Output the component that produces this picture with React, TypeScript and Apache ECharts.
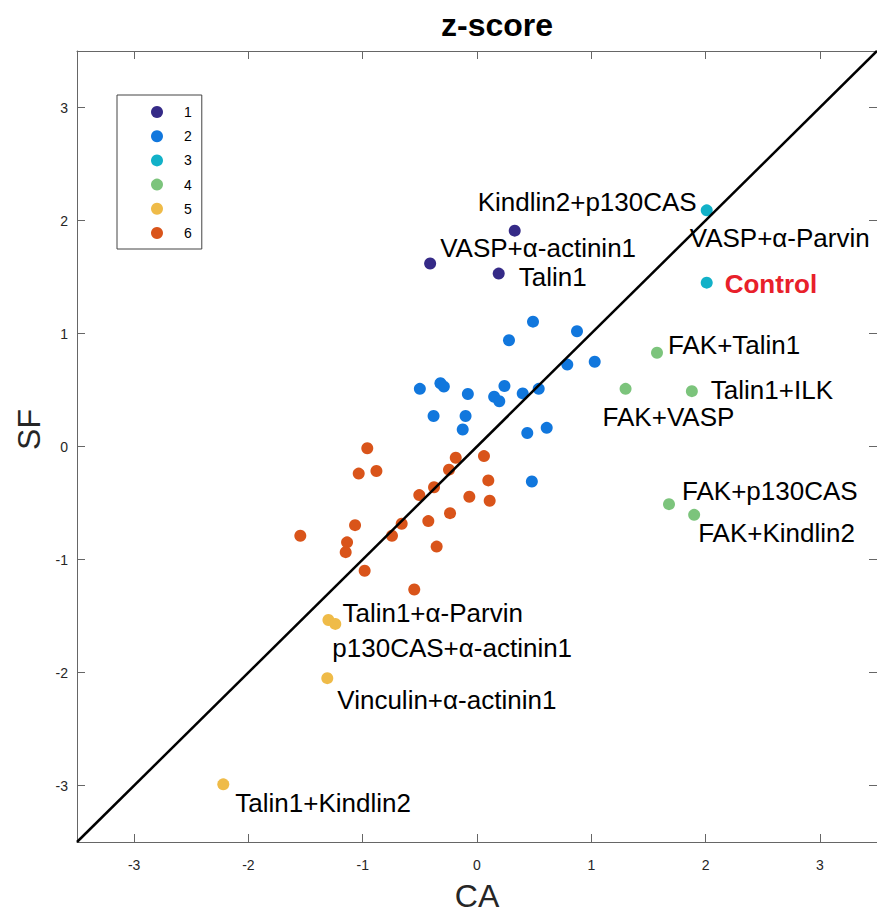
import React, { useEffect, useRef } from "react";
import * as echarts from "echarts";

// ---- data (CA = x, SF = y) ----
const GROUPS = ["1", "2", "3", "4", "5", "6"];

const CA1 = [0.33, -0.41, 0.19];
const SF1 = [1.91, 1.62, 1.53];
const NAME1 = ["Kindlin2+p130CAS", "VASP+α-actinin1", "Talin1"];

const CA2 = [0.49, 0.875, 0.28, 0.79, 1.03, -0.5, -0.32, -0.29, -0.08, 0.24, 0.15, 0.195, 0.4, 0.54, -0.38, -0.1, -0.125, 0.44, 0.61, 0.48];
const SF2 = [1.105, 1.02, 0.94, 0.725, 0.75, 0.51, 0.56, 0.53, 0.465, 0.535, 0.44, 0.4, 0.47, 0.51, 0.27, 0.27, 0.15, 0.12, 0.165, -0.31];

const CA3 = [2.01, 2.01];
const SF3 = [2.09, 1.45];
const NAME3 = ["VASP+α-Parvin", "Control"];

const CA4 = [1.575, 1.3, 1.88, 1.68, 1.9];
const SF4 = [0.83, 0.51, 0.49, -0.51, -0.605];
const NAME4 = ["FAK+Talin1", "FAK+VASP", "Talin1+ILK", "FAK+p130CAS", "FAK+Kindlin2"];

const CA5 = [-1.3, -1.24, -1.31, -2.22];
const SF5 = [-1.535, -1.57, -2.05, -2.99];
const NAME5 = ["Talin1+α-Parvin", "p130CAS+α-actinin1", "Vinculin+α-actinin1", "Talin1+Kindlin2"];

const CA6 = [-0.96, -1.035, -0.88, -0.186, 0.061, -0.245, -0.376, -0.505, 0.099, -0.067, 0.111, -0.236, -1.067, -0.659, -0.426, -1.546, -0.744, -1.137, -1.149, -0.353, -0.983, -0.549];
const SF6 = [-0.015, -0.24, -0.217, -0.1, -0.085, -0.205, -0.36, -0.43, -0.3, -0.445, -0.48, -0.59, -0.696, -0.684, -0.66, -0.79, -0.79, -0.848, -0.935, -0.886, -1.1, -1.266];

const DIAG = [-3.5, 3.5];

// ---- styles ----
const COLORS = ["#352a87", "#1177dd", "#12b1c8", "#7cc47c", "#efbb48", "#d9541a"];
const FONT = "'Liberation Sans', Arial, Helvetica, sans-serif";

const LABEL_LAYOUT: Record<string, { dx: number; dy: number; bold?: boolean; color?: string }> = {
  "Kindlin2+p130CAS": { dx: -37, dy: -29 },
  "VASP+α-actinin1": { dx: 10, dy: -15 },
  Talin1: { dx: 20, dy: 3 },
  "VASP+α-Parvin": { dx: -17, dy: 28 },
  Control: { dx: 18, dy: 1, bold: true, color: "#e8202a" },
  "FAK+Talin1": { dx: 11, dy: -8 },
  "FAK+VASP": { dx: -23, dy: 28 },
  "Talin1+ILK": { dx: 19, dy: -1 },
  "FAK+p130CAS": { dx: 13, dy: -13 },
  "FAK+Kindlin2": { dx: 4, dy: 18 },
  "Talin1+α-Parvin": { dx: 14, dy: -7 },
  "p130CAS+α-actinin1": { dx: -3, dy: 24 },
  "Vinculin+α-actinin1": { dx: 10, dy: 22 },
  "Talin1+Kindlin2": { dx: 12, dy: 19 },
};

function makeSeries(idx: number, xs: number[], ys: number[], names?: string[]) {
  return {
    type: "scatter",
    name: GROUPS[idx],
    xAxisIndex: 0,
    yAxisIndex: 0,
    symbol: "circle",
    symbolSize: 12,
    itemStyle: { color: COLORS[idx], opacity: 1 },
    z: 3,
    emphasis: { disabled: true },
    data: xs.map((x, i) => {
      const item: any = { value: [x, ys[i]] };
      const label = names ? names[i] : undefined;
      if (label) {
        const s = LABEL_LAYOUT[label];
        item.name = label;
        item.label = {
          show: true,
          position: "inside",
          align: "left",
          verticalAlign: "middle",
          offset: [s.dx, s.dy],
          formatter: "{b}",
          color: s.color || "#000",
          fontSize: 26,
          fontWeight: s.bold ? "bold" : "normal",
          fontFamily: FONT,
          textBorderWidth: 0,
        };
      }
      return item;
    }),
  };
}

const axisLineStyle = { color: "#666", width: 1 };

export default function App() {
  const ref = useRef<HTMLDivElement>(null);
  useEffect(() => {
    if (!ref.current) return;
    const chart = echarts.init(ref.current, undefined, { renderer: "svg" });
    const labelFmt = (v: number) => (Number.isInteger(v) ? String(v) : "");
    const baseAxis = {
      type: "value",
      min: -3.5,
      max: 3.5,
      splitNumber: 7,
      splitLine: { show: false },
      axisLine: { show: true, onZero: false, lineStyle: axisLineStyle },
      axisTick: { show: true, inside: true, length: 8, lineStyle: axisLineStyle },
    };
    chart.setOption({
      animation: false,
      backgroundColor: "#fff",
      title: {
        text: "z-score",
        left: 441,
        top: 9,
        padding: 0,
        textStyle: { fontSize: 32, fontWeight: "bold", color: "#000", fontFamily: FONT },
      },
      legend: {
        data: GROUPS,
        orient: "vertical",
        left: 117,
        top: 95,
        padding: [10, 10, 9, 34],
        itemGap: 10.2,
        itemWidth: 12,
        itemHeight: 12,
        icon: "circle",
        borderColor: "#444",
        borderWidth: 1,
        selectedMode: false,
        textStyle: { fontSize: 14, color: "#000", fontFamily: FONT, padding: [0, 0, 0, 16] },
      },
      grid: { left: 77, width: 801, top: 51, height: 798, containLabel: false },
      xAxis: [
        {
          ...baseAxis,
          position: "bottom",
          name: "CA",
          nameLocation: "middle",
          nameGap: 38,
          nameTextStyle: { fontSize: 32, color: "#262626", fontFamily: FONT },
          axisLabel: {
            formatter: labelFmt,
            margin: 16,
            fontSize: 14,
            color: "#262626",
            fontFamily: FONT,
            showMinLabel: false,
            showMaxLabel: false,
          },
        },
        {
          ...baseAxis,
          position: "top",
          axisLabel: { show: false },
        },
      ],
      yAxis: [
        {
          ...baseAxis,
          position: "left",
          name: "SF",
          nameLocation: "middle",
          nameGap: 31,
          nameTextStyle: { fontSize: 32, color: "#262626", fontFamily: FONT, padding: [0, 0, 0, 34] },
          axisLabel: {
            formatter: labelFmt,
            margin: 9,
            fontSize: 14,
            color: "#262626",
            fontFamily: FONT,
            showMinLabel: false,
            showMaxLabel: false,
          },
        },
        {
          ...baseAxis,
          position: "right",
          axisLabel: { show: false },
        },
      ],
      series: [
        makeSeries(0, CA1, SF1, NAME1),
        makeSeries(1, CA2, SF2),
        makeSeries(2, CA3, SF3, NAME3),
        makeSeries(3, CA4, SF4, NAME4),
        makeSeries(4, CA5, SF5, NAME5),
        makeSeries(5, CA6, SF6),
        {
          type: "line",
          name: "diagonal",
          xAxisIndex: 0,
          yAxisIndex: 0,
          data: [
            [DIAG[0], DIAG[0]],
            [DIAG[1], DIAG[1]],
          ],
          symbol: "none",
          lineStyle: { color: "#000", width: 2.5 },
          z: 5,
          silent: true,
        },
      ],
    });
    return () => chart.dispose();
  }, []);
  return (
    <div
      ref={ref}
      style={{ position: "absolute", left: 0, top: 0, width: 877, height: 917, background: "#fff" }}
    />
  );
}
